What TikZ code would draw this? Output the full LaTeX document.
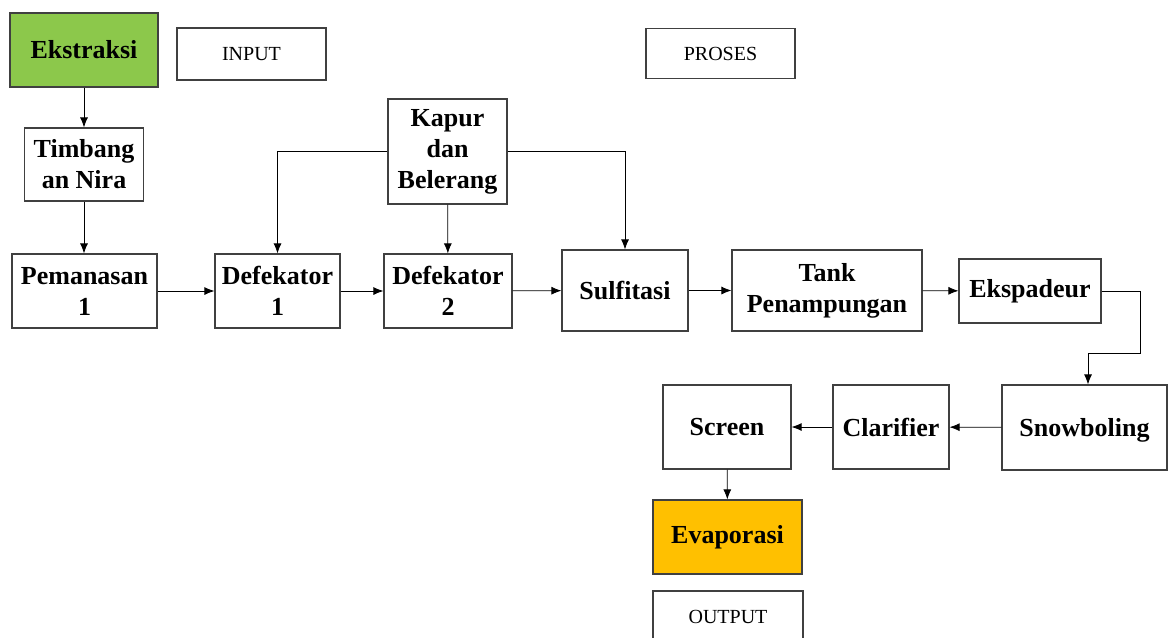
\documentclass[tikz,border=0pt]{standalone}
\usepackage{fontspec}
\setmainfont{Liberation Serif}
\usetikzlibrary{positioning}
\usetikzlibrary{arrows.meta}
\definecolor{hijau}{HTML}{8CC84B}
\definecolor{oranye}{HTML}{FFC000}

\begin{document}
\begin{tikzpicture}[x=0.5pt, y=-0.5pt,
    every node/.style={fill=white},
    b/.style={draw=black!75, line width=0.6pt, align=center, inner sep=1pt,
      font=\fontsize{13}{15.5}\selectfont\bfseries},
    lbl/.style={draw=black!75, line width=0.6pt, font=\fontsize{10}{12}\selectfont},
    >={Latex[length=5pt, width=4pt]}]
        \useasboundingbox (0,0) rectangle (1170,637);

        \node[b, fill=hijau, minimum width=74pt, minimum height=37pt] (ekstraksi) at (84,50) {Ekstraksi};
        \node[lbl, minimum width=74.5pt, minimum height=26pt] (input) at (251.5,54) {INPUT};
        \node[lbl, minimum width=74.5pt, minimum height=25pt] (proses) at (720.5,53.5) {PROSES};
        \node[b, minimum width=59.5pt, minimum height=36.5pt] (timbang) at (84,164.5) {Timbang\\an Nira};
        \node[b, minimum width=59.5pt, minimum height=52.5pt] (kapur) at (447.5,151.5) {Kapur\\dan\\Belerang};

        \node[b, minimum width=72.5pt, minimum height=37pt] (pemanasan) at (84.5,291) {Pemanasan\\1};
        \node[b, minimum width=62.5pt, minimum height=37pt] (def1) at (277.5,291) {Defekator\\1};
        \node[b, minimum width=64pt, minimum height=37pt] (def2) at (448,291) {Defekator\\2};
        \node[b, minimum width=63pt, minimum height=40.5pt] (sulfitasi) at (625,290.5) {Sulfitasi};
        \node[b, minimum width=95pt, minimum height=40.5pt] (tank) at (827,290.5) {Tank\\Penampungan};
        \node[b, minimum width=71pt, minimum height=32pt] (ekspadeur) at (1030,291) {Ekspadeur};

        \node[b, minimum width=82.5pt, minimum height=42.5pt, text depth=0pt] (snowboling) at (1084.5,427.5) {Snowboling};
        \node[b, minimum width=58pt, minimum height=42pt] (clarifier) at (891,427) {Clarifier};
        \node[b, minimum width=64pt, minimum height=42pt] (screen) at (727,427) {Screen};
        \node[b, fill=oranye, minimum width=74.5pt, minimum height=37pt] (evaporasi) at (727.5,537) {Evaporasi};
        \node[lbl, minimum width=75pt, minimum height=26pt] (output) at (728,617) {OUTPUT};

        \coordinate (belok) at (1140,353);

        \draw[->] (ekstraksi) -- (timbang);
        \draw[->] (timbang) -- (timbang |- pemanasan.north);
        \draw[->] (pemanasan) -- (def1);
        \draw[->] (def1) -- (def2);
        \draw[->] (def2) -- (sulfitasi);
        \draw[->] (sulfitasi) -- (tank);
        \draw[->] (tank) -- (ekspadeur);
        \draw[->] (kapur.west) -| (def1.north);
        \draw[->] (kapur) -- (def2);
        \draw[->] (kapur.east) -| (sulfitasi.north);
        \draw[->] (ekspadeur.east) -- (ekspadeur.east -| belok) -- (belok) -| ([xshift=1.75pt]snowboling.north);
        \draw[->] (snowboling) -- (clarifier);
        \draw[->] (clarifier) -- (screen);
        \draw[->] (screen) -- (evaporasi);
    \end{tikzpicture}
\end{document}
